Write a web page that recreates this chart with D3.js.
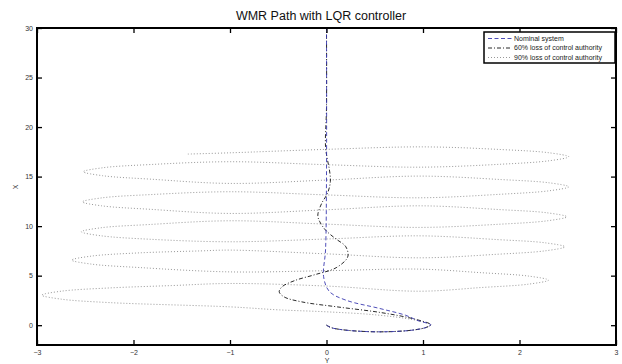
<!DOCTYPE html>
<html>
<head>
<meta charset="utf-8">
<script src="https://cdn.jsdelivr.net/npm/d3@7"></script>
<style>
  body { margin: 0; background: #fff; }
  svg { display: block; font-family: "Liberation Sans", Arial, sans-serif; }
</style>
</head>
<body>
<svg id="chart" width="622" height="364"></svg>
<script>
// series: horizontal value is Y, vertical value is X (as in the original plot)
var nominalY = [0, 0.05, 0.2, 0.55, 0.89, 1.04, 1.08, 0.95, 0.82, 0.55, 0.2, 0.03, -0.03, -0.01, 0, 0];
var nominalX = [0, -0.25, -0.5, -0.67, -0.5, -0.2, 0.05, 0.45, 1.0, 1.69, 2.53, 3.4, 4.9, 7.6, 15, 30];

var loss60Y = [0, 0.05, 0.2, 0.55, 0.89, 1.04, 1.08, 0.92, 0.56, 0.11, -0.26, -0.44, -0.49, -0.46, -0.33,
  -0.12, 0.1, 0.22, 0.2, 0.09, -0.01, -0.07, -0.09, -0.05, 0.01, 0.04, 0.03, 0.01, -0.01, 0, 0];
var loss60X = [0, -0.25, -0.5, -0.67, -0.5, -0.2, 0.05, 0.6, 1.28, 1.85, 2.36, 2.86, 3.37, 3.88, 4.5,
  5.1, 5.8, 6.9, 7.92, 8.76, 9.6, 10.45, 11.1, 12.3, 13.3, 14.5, 15.7, 16.7, 18, 22, 30];

var loss90Y = [0, 0.05, 0.2, 0.55, 0.89, 1.04, 1.08, 0.9, 0.5, 0, -0.5, -1,
  -2.25, -2.75, -2.95, -2.75, -2.25, -1.6, -1, 0, 0.96,
  1.6, 2.1, 2.3, 2.1, 1.6, 0.96, 0, -1,
  -1.94, -2.44, -2.64, -2.44, -1.94, -1.3, -1, 0, 0.96,
  1.77, 2.27, 2.47, 2.27, 1.77, 0.96, 0, -1,
  -1.84, -2.34, -2.54, -2.34, -1.84, -1, 0, 0.96,
  1.79, 2.29, 2.49, 2.29, 1.79, 0.96, 0, -1,
  -1.83, -2.33, -2.53, -2.33, -1.83, -1, 0, 0.96,
  1.81, 2.31, 2.51, 2.31, 1.81, 0.96, 0, -1,
  -1.82, -2.32, -2.52, -2.32, -1.82, -1, 0, 0.96,
  1.81, 2.31, 2.51, 2.31, 1.81, 1.0, 0, -1, -1.45];
var loss90X = [0, -0.25, -0.5, -0.67, -0.5, -0.2, 0.05, 0.55, 1.05, 1.35, 1.55, 1.85,
  2.28, 2.63, 3.03, 3.43, 3.76, 4.0, 4.21, 3.95, 3.43,
  3.8, 4.15, 4.55, 4.95, 5.3, 5.66, 5.5, 5.38,
  5.82, 6.17, 6.57, 6.97, 7.3, 7.5, 7.58, 7.2, 6.8,
  7.16, 7.51, 7.91, 8.31, 8.64, 9.02, 8.7, 8.42,
  8.68, 9.03, 9.43, 9.83, 10.16, 10.54, 10.2, 9.87,
  10.19, 10.54, 10.94, 11.34, 11.67, 12.05, 11.65, 11.28,
  11.7, 12.05, 12.45, 12.85, 13.18, 13.47, 13.15, 12.86,
  13.22, 13.57, 13.97, 14.37, 14.7, 15.05, 14.65, 14.31,
  14.74, 15.09, 15.49, 15.89, 16.22, 16.5, 16.2, 15.95,
  16.25, 16.6, 17.0, 17.4, 17.73, 18.0, 17.75, 17.4, 17.27];

var xTicks = [-3, -2, -1, 0, 1, 2, 3];
var yTicks = [0, 5, 10, 15, 20, 25, 30];
var legendLabels = ['Nominal system', '60% loss of control authority', '90% loss of control authority'];

(function () {
  'use strict';

  var svg = d3.select('#chart');
  var pLeft = 37, pRight = 616, pTop = 28, pBottom = 345;

  var x = d3.scaleLinear().domain([-3, 3]).range([pLeft, pRight]);
  var y = d3.scaleLinear().domain([-2, 30]).range([pBottom, pTop]);

  svg.append('defs').append('clipPath').attr('id', 'plotclip')
    .append('rect').attr('x', pLeft).attr('y', pTop)
    .attr('width', pRight - pLeft).attr('height', pBottom - pTop);

  function pairs(a, b) {
    return a.map(function (v, i) { return [v, b[i]]; });
  }

  var line = d3.line()
    .x(function (d) { return x(d[0]); })
    .y(function (d) { return y(d[1]); })
    .curve(d3.curveCatmullRom.alpha(0.5));

  var series = [
    { pts: pairs(loss90Y, loss90X), color: '#8c8c8c', dash: '1,2', w: 0.9 },
    { pts: pairs(loss60Y, loss60X), color: '#111', dash: '4,2,1,2', w: 0.9 },
    { pts: pairs(nominalY, nominalX), color: '#3a3ab0', dash: '4,2.5', w: 0.9 }
  ];

  var plot = svg.append('g').attr('clip-path', 'url(#plotclip)');
  series.forEach(function (s) {
    plot.append('path')
      .attr('d', line(s.pts))
      .attr('fill', 'none')
      .attr('stroke', s.color)
      .attr('stroke-width', s.w)
      .attr('stroke-dasharray', s.dash);
  });

  // axes: ticks inward on all four sides
  var fmt = d3.format('d');
  svg.append('g').attr('transform', 'translate(0,' + pBottom + ')')
    .call(d3.axisBottom(x).tickValues(xTicks).tickSize(-5).tickPadding(5).tickFormat(fmt));
  svg.append('g').attr('transform', 'translate(0,' + pTop + ')')
    .call(d3.axisTop(x).tickValues(xTicks).tickSize(-5).tickFormat(''));
  svg.append('g').attr('transform', 'translate(' + pLeft + ',0)')
    .call(d3.axisLeft(y).tickValues(yTicks).tickSize(-5).tickPadding(4).tickFormat(fmt));
  svg.append('g').attr('transform', 'translate(' + pRight + ',0)')
    .call(d3.axisRight(y).tickValues(yTicks).tickSize(-5).tickFormat(''));

  svg.selectAll('.domain').remove();
  svg.selectAll('.tick line').attr('stroke', '#000').attr('stroke-width', 1.3);
  svg.selectAll('.tick text').attr('font-size', 7).attr('fill', '#333')
    .attr('font-family', '"Liberation Sans", Arial, sans-serif');

  svg.append('rect')
    .attr('x', pLeft).attr('y', pTop).attr('width', pRight - pLeft).attr('height', pBottom - pTop)
    .attr('fill', 'none').attr('stroke', '#000').attr('stroke-width', 2);

  svg.append('text').attr('x', 321).attr('y', 20).attr('text-anchor', 'middle')
    .attr('font-size', 12.5).attr('fill', '#111').text('WMR Path with LQR controller');
  svg.append('text').attr('x', 327).attr('y', 363).attr('text-anchor', 'middle')
    .attr('font-size', 7).attr('fill', '#333').text('Y');
  svg.append('text').attr('transform', 'translate(18,187) rotate(-90)').attr('text-anchor', 'middle')
    .attr('font-size', 7).attr('fill', '#333').text('X');

  // legend
  var lg = svg.append('g');
  lg.append('rect').attr('x', 484).attr('y', 32).attr('width', 131).attr('height', 31)
    .attr('fill', '#fff').attr('stroke', '#000').attr('stroke-width', 1.5);
  var legendStyles = series.slice().reverse();
  legendLabels.forEach(function (lab, i) {
    var ly = 38.5 + i * 9.5;
    lg.append('line').attr('x1', 488).attr('x2', 512).attr('y1', ly).attr('y2', ly)
      .attr('stroke', legendStyles[i].color).attr('stroke-width', 0.9)
      .attr('stroke-dasharray', legendStyles[i].dash);
    lg.append('text').attr('x', 514).attr('y', ly + 2.4).attr('font-size', 7).attr('fill', '#222').text(lab);
  });
})();
</script>
</body>
</html>
